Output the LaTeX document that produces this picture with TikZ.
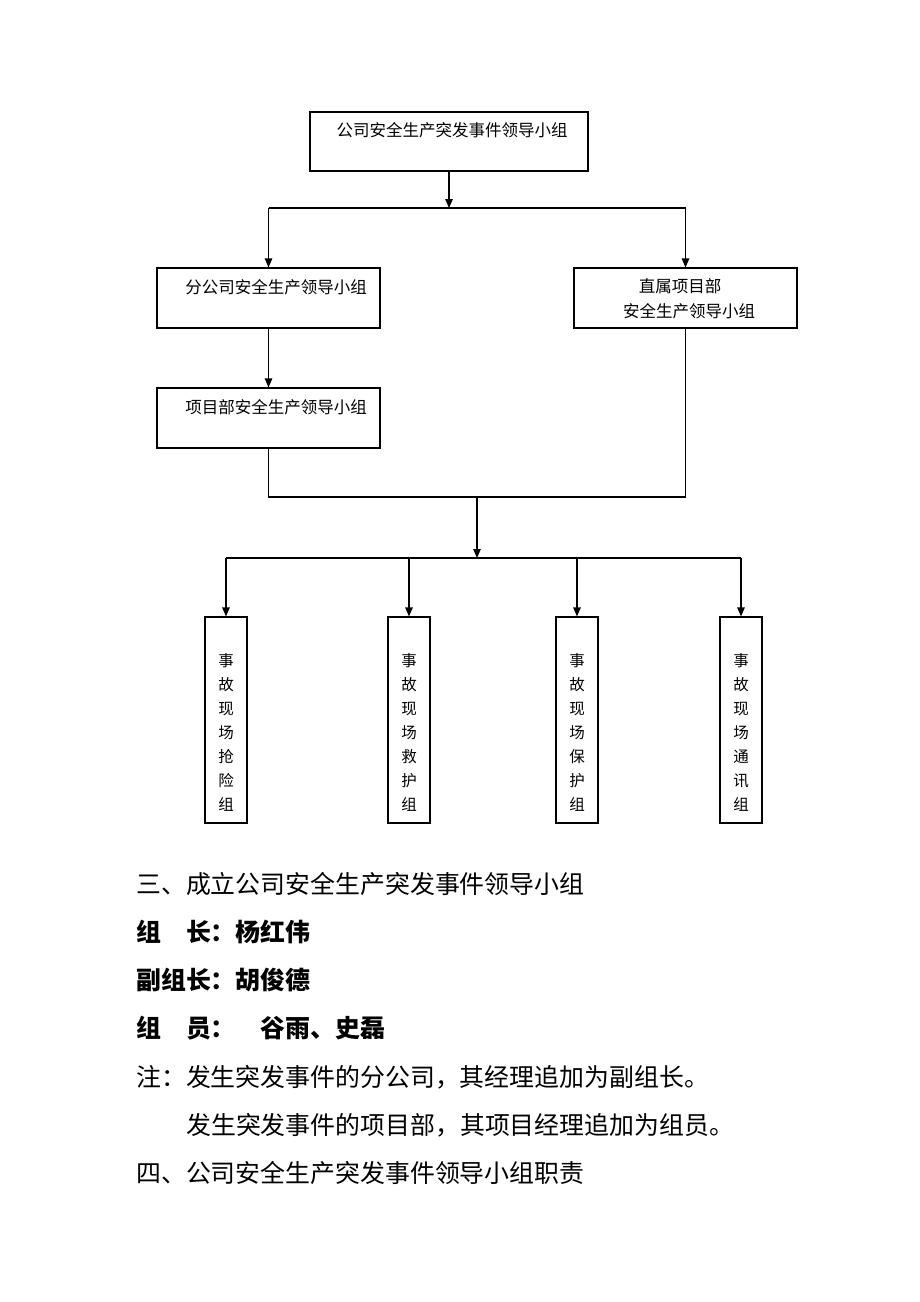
\documentclass[tikz,border=0pt]{standalone}
\usepackage{fontspec}
\newfontfamily\cjk{Noto Sans CJK SC}
\usetikzlibrary{arrows.meta}
\begin{document}
\begin{tikzpicture}[x=1pt,y=-1pt,
  box/.style={draw, line width=1.2pt, inner sep=0},
  lbl/.style={font=\cjk\fontsize{16.5}{18}\selectfont, inner sep=0},
  vlbl/.style={font=\cjk\fontsize{15.5}{24}\selectfont, inner sep=0, align=center},
  arr/.style={line width=1.2pt, -{Triangle[length=9pt,width=7.5pt]}},
  ln/.style={line width=1.2pt},
  body/.style={font=\cjk\fontsize{24.9}{30}\selectfont, inner sep=0, anchor=west},
  bbody/.style={body, font=\cjk\bfseries\fontsize{24.9}{30}\selectfont}]
\useasboundingbox[fill=white] (0,0) rectangle (920,1302);

% boxes
\node[box, minimum width=278pt, minimum height=59pt] (top) at (449,141.5) {};
\node[box, minimum width=223pt, minimum height=60pt] (fen) at (268.5,298) {};
\node[box, minimum width=223pt, minimum height=60pt] (zhi) at (685.5,298) {};
\node[box, minimum width=223pt, minimum height=60pt] (xm) at (268.5,418) {};
\node[box, minimum width=42pt, minimum height=206pt] (g1) at (226,720) {};
\node[box, minimum width=42pt, minimum height=206pt] (g2) at (409,720) {};
\node[box, minimum width=42pt, minimum height=206pt] (g3) at (577,720) {};
\node[box, minimum width=42pt, minimum height=206pt] (g4) at (741,720) {};

% labels
\node[lbl] (ttop) at (452,130) {公司安全生产突发事件领导小组};
\node[lbl] (tfen) at (276,287) {分公司安全生产领导小组};
\node[lbl] (txm) at (276,407) {项目部安全生产领导小组};
\node[lbl] (tzhi1) at (680,286) {直属项目部};
\node[lbl] (tzhi2) at (689,311) {安全生产领导小组};
\node[vlbl] (tg1) at (226,732.5) {事\\故\\现\\场\\抢\\险\\组};
\node[vlbl] (tg2) at (409,732.5) {事\\故\\现\\场\\救\\护\\组};
\node[vlbl] (tg3) at (577,732.5) {事\\故\\现\\场\\保\\护\\组};
\node[vlbl] (tg4) at (741,732.5) {事\\故\\现\\场\\通\\讯\\组};

% connector points
\coordinate (s1) at (449,208);
\coordinate (s1l) at (268.5,208);
\coordinate (s1r) at (685.5,208);
\coordinate (j1) at (268.5,497);
\coordinate (j2) at (685.5,497);
\coordinate (j) at (477,497);
\coordinate (s2) at (477,558);
\coordinate (s2a) at (226,558);
\coordinate (s2b) at (409,558);
\coordinate (s2c) at (577,558);
\coordinate (s2d) at (741,558);

\draw[arr] (top.south) -- (s1);
\draw[ln] (s1l) -- (s1r);
\draw[arr] (s1l) -- (fen.north);
\draw[arr] (s1r) -- (zhi.north);
\draw[arr] (fen.south) -- (xm.north);
\draw[ln] (xm.south) -- (j1) -- (j2) -- (zhi.south);
\draw[arr] (j) -- (s2);
\draw[ln] (s2a) -- (s2d);
\draw[arr] (s2a) -- (g1.north);
\draw[arr] (s2b) -- (g2.north);
\draw[arr] (s2c) -- (g3.north);
\draw[arr] (s2d) -- (g4.north);

% body text
\node[body] (l1) at (136,884) {三、成立公司安全生产突发事件领导小组};
\node[bbody] (l2) at (136,932) {组　长：杨红伟};
\node[bbody] (l3) at (136,980) {副组长：胡俊德};
\node[bbody] (l4) at (136,1028) {组　员：　谷雨、史磊};
\node[body] (l5) at (136,1077) {注：发生突发事件的分公司，其经理追加为副组长。};
\node[body] (l6) at (186,1125) {发生突发事件的项目部，其项目经理追加为组员。};
\node[body] (l7) at (136,1173) {四、公司安全生产突发事件领导小组职责};
\end{tikzpicture}
\end{document}
